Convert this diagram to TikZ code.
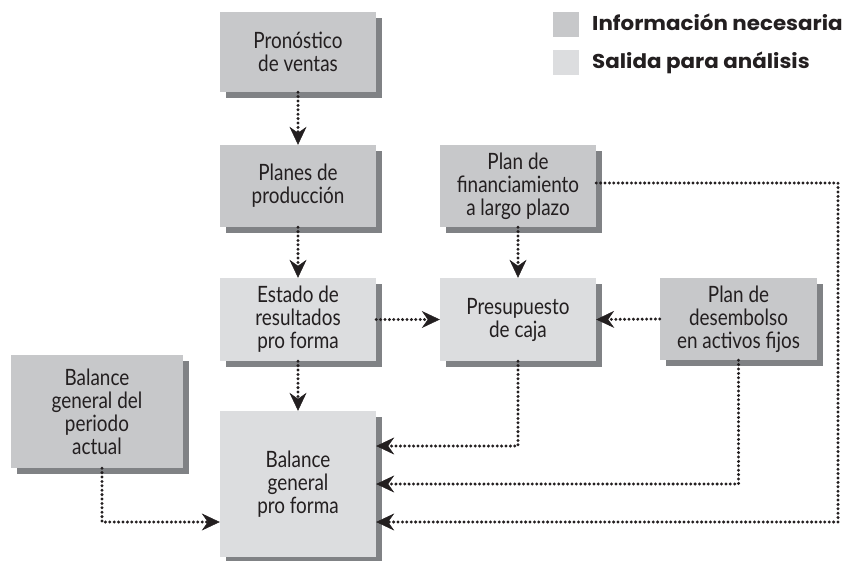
\documentclass[tikz,border=0pt]{standalone}
\usepackage{fontspec}
\setmainfont{Lato}
\newfontfamily\boxfont{Lato}[FakeStretch=0.84]
\newfontfamily\legfont{Poppins}[FakeStretch=1.07]
\usetikzlibrary{arrows.meta,shadows}
\definecolor{infog}{HTML}{C7C8CA}
\definecolor{outg}{HTML}{DCDDDF}
\definecolor{shad}{HTML}{808285}
\definecolor{txt}{HTML}{231F20}
\tikzset{
  box/.style={minimum width=156pt, inner sep=0pt, align=center, text=txt,
    font=\boxfont\fontsize{22.5}{23}\selectfont,
    drop shadow={shadow xshift=6pt, shadow yshift=-6pt, fill=shad, opacity=1}},
  info/.style={box, fill=infog},
  outp/.style={box, fill=outg},
  conn/.style={line width=3.3pt, dash pattern=on 0pt off 4.4pt, line cap=round, color=txt,
    -{Stealth[length=18pt, width=17pt, inset=6pt, line width=0.5pt]}},
  legsq/.style={minimum width=26pt, minimum height=25pt, inner sep=0pt},
  legtx/.style={anchor=base west, inner sep=0pt, text=txt,
    font=\legfont\bfseries\fontsize{20}{21}\selectfont},
}
\begin{document}
\begin{tikzpicture}[x=1pt, y=-1pt]
\useasboundingbox (0,0) rectangle (845,560);

% legend
\node[legsq, fill=infog] (lg1) at (566,24.5) {};
\node[legsq, fill=outg] (lg2) at (566,62) {};
\node[legtx] (lt1) at (592,30.5) {Información necesaria};
\node[legtx] (lt2) at (592,68.5) {Salida para análisis};

% boxes
\node[info, minimum height=80pt] (pron) at (298,52) {Pronóstico\\de ventas};
\node[info, minimum height=82pt] (plan) at (298,186) {Planes de\\producción};
\node[info, minimum height=82pt] (fin) at (518,186) {Plan de\\financiamiento\\a largo plazo};
\node[outp, minimum height=83pt] (estado) at (298,319.5) {Estado de\\resultados\\pro forma};
\node[outp, minimum height=83pt] (presup) at (518,319.5) {Presupuesto\\de caja};
\node[info, minimum width=157pt, minimum height=82pt] (desemb) at (738.5,319) {Plan de\\desembolso\\en activos fijos};
\node[info, minimum width=172pt, minimum height=113pt] (actual) at (97,411.5) {Balance\\general del\\periodo\\actual};
\node[outp, minimum height=146pt] (balance) at (298,484) {Balance\\general\\pro forma};

% connectors
\draw[conn] (pron.south) -- (plan.north);
\draw[conn] (plan.south) -- (estado.north);
\draw[conn] (fin.south) -- (presup.north);
\draw[conn] (estado.east) -- (presup.west);
\draw[conn] (desemb.west) -- (presup.east);
\draw[conn] (estado.south) -- (balance.north);
\draw[conn] (presup.south) |- ([yshift=38pt]balance.east);
\draw[conn] (desemb.south) |- (balance.east);
\coordinate (finc) at (838,183);
\draw[conn] ([yshift=3pt]fin.east) -- (finc) |- ([yshift=-38pt]balance.east);
\draw[conn] ([xshift=5pt]actual.south) |- ([yshift=-38pt]balance.west);
\end{tikzpicture}
\end{document}
